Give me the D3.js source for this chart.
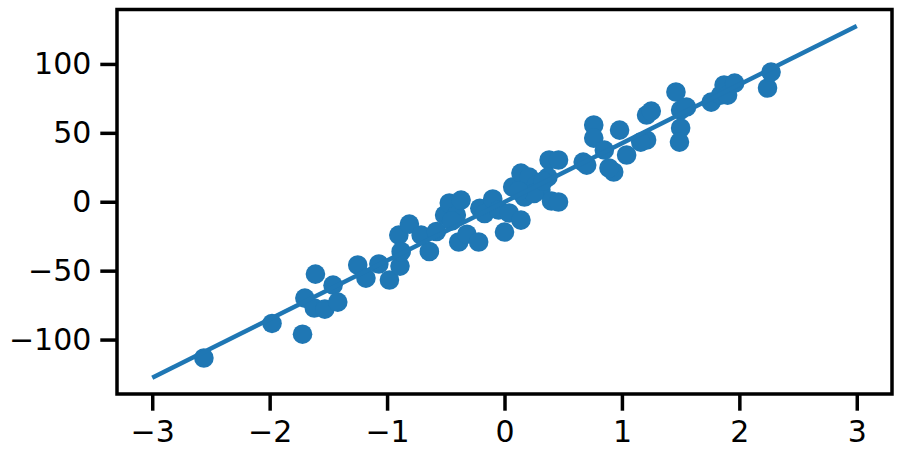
<!DOCTYPE html>
<html>
<head>
<meta charset="utf-8">
<script src="https://cdn.jsdelivr.net/npm/d3@7"></script>
<style>
  body { margin: 0; background: #fff; }
  .axis text { font-family: "DejaVu Sans", sans-serif; font-size: 30px; fill: #000; }
  .axis path, .axis line { stroke: #000; stroke-width: 3.5px; }
</style>
</head>
<body>
<script>
// 散点数据 (x, y)
var xs = [-2.56, -1.98, -1.72, -1.70, -1.61, -1.62, -1.53, -1.46, -1.42, -1.25,
          -1.18, -1.07, -0.98, -0.90, -0.89, -0.88, -0.81, -0.71, -0.64, -0.58,
          -0.51, -0.47, -0.41, -0.39, -0.37, -0.32, -0.22, -0.21, -0.17, -0.10,
          -0.05, 0.00, 0.04, 0.14, 0.07, 0.14, 0.21, 0.17, 0.27, 0.31,
          0.38, 0.46, 0.37, 0.40, 0.46, 0.67, 0.70, 0.76, 0.76, 0.85,
          0.93, 0.89, 0.98, 1.04, 1.21, 1.25, 1.21, 1.16, 1.46, 1.50,
          1.50, 1.49, 1.55, 1.76, 1.84, 1.87, 1.90, 1.96, 2.24, 2.27,
          0.25, -0.45, 0.12, 0.33];
var ys = [-113.4, -88.3, -96.1, -69.9, -52.5, -77.1, -77.9, -60.5, -72.8, -45.9,
          -55.4, -45.2, -56.8, -24.2, -46.7, -36.1, -16.2, -24.2, -36.1, -21.6,
          -9.7, -0.9, -9.7, -29.2, 1.2, -23.6, -29.2, -4.7, -8.5, 2.0,
          -6.0, -22.0, -8.2, -13.3, 10.7, 20.8, 17.9, 3.4, 12.1, 8.5,
          30.3, 30.3, 17.9, 0.5, -0.2, 28.8, 26.6, 55.7, 46.2, 37.5,
          21.6, 24.5, 52.0, 33.9, 62.9, 65.8, 44.8, 43.3, 79.6, 66.5,
          53.5, 43.3, 68.7, 72.3, 77.4, 84.7, 77.4, 86.1, 82.5, 94.1,
          6.0, -14.0, 8.0, 15.0];
// 拟合直线两端
var lineX = [-3, 3];
var lineY = [-127.7, 127.5];
// 刻度
var xTicks = [-3, -2, -1, 0, 1, 2, 3];
var yTicks = [-100, -50, 0, 50, 100];

var W = 900, H = 455;
var margin = {left: 117, right: 8, top: 9.5, bottom: 61};

var x = d3.scaleLinear().domain([-3.3, 3.3]).range([margin.left, W - margin.right]);
var y = d3.scaleLinear().domain([-139.5, 139.5]).range([H - margin.bottom, margin.top]);

var svg = d3.select("body").append("svg")
    .attr("width", W)
    .attr("height", H);

var blue = "#1f77b4";
var fmt = d3.format("d");

// 散点
var pts = xs.map(function (d, i) { return [d, ys[i]]; });
svg.append("g").selectAll("circle")
    .data(pts)
    .enter().append("circle")
    .attr("cx", function (d) { return x(d[0]); })
    .attr("cy", function (d) { return y(d[1]); })
    .attr("r", 9.8)
    .attr("fill", blue);

// 回归线
var line = d3.line().x(function (d) { return x(d[0]); }).y(function (d) { return y(d[1]); });
svg.append("path")
    .datum(lineX.map(function (d, i) { return [d, lineY[i]]; }))
    .attr("d", line)
    .attr("fill", "none")
    .attr("stroke", blue)
    .attr("stroke-width", 4.5);

// 坐标框
svg.append("rect")
    .attr("x", margin.left)
    .attr("y", margin.top)
    .attr("width", W - margin.left - margin.right)
    .attr("height", H - margin.top - margin.bottom)
    .attr("fill", "none")
    .attr("stroke", "#000")
    .attr("stroke-width", 3.5);

// x轴
svg.append("g")
    .attr("class", "axis")
    .attr("transform", "translate(0," + (H - margin.bottom) + ")")
    .call(d3.axisBottom(x).tickValues(xTicks).tickFormat(fmt).tickSize(16.7).tickPadding(10).tickSizeOuter(0))
    .call(function (g) { g.select(".domain").remove(); });

// y轴
svg.append("g")
    .attr("class", "axis")
    .attr("transform", "translate(" + margin.left + ",0)")
    .call(d3.axisLeft(y).tickValues(yTicks).tickFormat(fmt).tickSize(16.7).tickPadding(9).tickSizeOuter(0))
    .call(function (g) { g.select(".domain").remove(); });
</script>
</body>
</html>
